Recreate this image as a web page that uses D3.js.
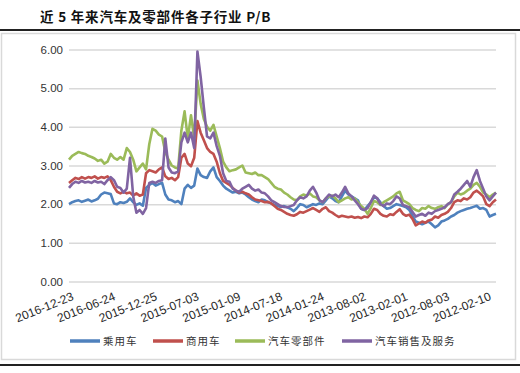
<!DOCTYPE html>
<html><head><meta charset="utf-8">
<script src="https://cdn.jsdelivr.net/npm/d3@7"></script>
<style>
html,body{margin:0;padding:0;background:#fff;}
svg{display:block;}
</style></head>
<body>
<svg id="chart" width="520" height="373"></svg>
<script>
const title = "近 5 年来汽车及零部件各子行业 P/B";
const seriesNames = ["乘用车", "商用车", "汽车零部件", "汽车销售及服务"];
const xLabels = ["2016-12-23","2016-06-24","2015-12-25","2015-07-03","2015-01-09","2014-07-18","2014-01-24","2013-08-02","2013-02-01","2012-08-03","2012-02-10"];
const yTicks = [0,1,2,3,4,5,6];
const labelStep = 13; // biweekly samples, one label every 26 weeks

const passenger = [2.00,2.05,2.08,2.10,2.06,2.09,2.12,2.07,2.10,2.14,2.25,2.30,2.28,2.26,2.02,2.00,2.05,2.03,2.06,2.15,
2.05,1.98,2.02,1.96,2.42,2.50,2.55,2.48,2.52,2.55,2.25,2.12,2.10,2.05,2.08,2.00,2.40,2.50,2.42,2.48,
2.92,2.75,2.70,2.68,2.85,2.95,2.70,2.60,2.48,2.40,2.35,2.30,2.32,2.28,2.30,2.25,2.18,2.12,2.08,2.05,
2.12,2.10,2.05,2.02,1.98,1.95,1.93,1.95,1.92,1.88,1.82,1.90,2.00,1.98,1.92,1.96,2.00,1.98,2.02,2.00,
2.10,2.20,2.15,2.08,2.05,2.20,2.35,2.25,2.20,2.15,2.10,1.88,1.85,1.95,2.05,2.18,2.15,2.05,1.95,1.88,
1.90,1.95,2.00,1.98,1.95,1.92,1.85,1.70,1.55,1.52,1.48,1.52,1.55,1.48,1.40,1.45,1.55,1.58,1.62,1.68,
1.72,1.78,1.82,1.85,1.88,1.90,1.93,1.96,1.88,1.90,1.85,1.68,1.72,1.75];

const commercial = [2.55,2.62,2.68,2.65,2.70,2.66,2.70,2.68,2.72,2.66,2.70,2.68,2.72,2.62,2.45,2.32,2.28,2.32,2.28,2.30,
2.22,2.28,2.22,2.25,2.80,2.88,2.85,2.82,2.90,2.95,2.72,2.65,2.68,2.62,2.70,3.20,3.30,3.05,2.98,3.20,
4.15,3.85,3.65,3.45,3.35,3.30,3.10,2.80,2.60,2.55,2.50,2.42,2.35,2.30,2.32,2.28,2.25,2.18,2.12,2.10,
2.08,2.05,2.06,2.02,1.95,1.88,1.85,1.80,1.75,1.72,1.70,1.74,1.80,1.78,1.82,1.86,1.90,1.85,1.80,1.88,
1.92,1.82,1.78,1.72,1.67,1.70,1.68,1.66,1.68,1.65,1.67,1.64,1.68,1.66,1.75,1.88,1.85,1.75,1.70,1.68,
1.74,1.72,1.80,1.87,1.75,1.70,1.73,1.62,1.45,1.50,1.55,1.52,1.58,1.60,1.68,1.65,1.72,1.75,1.80,1.90,
2.05,2.10,2.08,2.15,2.12,2.18,2.30,2.35,2.28,2.20,2.00,1.95,2.05,2.12];

const parts = [3.15,3.25,3.30,3.35,3.32,3.30,3.25,3.22,3.18,3.12,3.15,3.05,3.10,3.30,3.20,3.15,3.22,3.15,3.45,3.35,
3.15,2.85,2.95,3.05,2.90,3.55,3.95,3.90,3.80,3.75,3.35,3.15,3.00,2.95,2.92,3.90,4.40,3.70,4.30,3.70,
5.20,4.60,4.20,4.00,3.90,4.05,3.75,3.45,3.10,2.95,2.85,2.88,2.90,2.95,3.00,2.82,2.80,2.78,2.82,2.75,
2.75,2.70,2.65,2.55,2.45,2.40,2.38,2.30,2.25,2.18,2.12,2.10,2.20,2.25,2.22,2.28,2.20,2.18,2.10,2.05,
2.15,2.20,2.22,2.15,2.05,2.10,2.15,2.18,2.12,2.15,2.05,1.95,1.88,1.75,1.90,2.08,2.05,1.98,2.05,2.10,
2.15,2.20,2.28,2.32,2.10,2.05,2.00,1.90,1.85,1.82,1.90,1.88,1.95,1.90,1.88,1.92,1.95,1.90,2.00,2.05,
2.20,2.30,2.25,2.28,2.35,2.40,2.50,2.55,2.45,2.30,2.25,2.18,2.25,2.30];

const dealers = [2.42,2.52,2.58,2.55,2.60,2.56,2.58,2.55,2.60,2.56,2.58,2.52,2.62,2.70,2.62,2.45,2.42,2.30,2.40,3.20,
2.20,1.78,1.85,1.75,1.90,2.55,2.58,2.55,2.60,2.62,3.70,2.95,2.82,2.80,2.85,3.60,3.85,3.60,3.85,3.45,
5.95,5.30,4.50,3.75,3.70,3.85,3.50,3.25,2.80,2.60,2.58,2.40,2.35,2.32,2.40,2.45,2.50,2.40,2.35,2.38,
2.30,2.28,2.20,2.10,2.05,2.00,1.95,1.93,1.92,1.95,1.98,2.10,2.18,2.15,2.20,2.35,2.45,2.30,2.10,2.05,
2.15,2.25,2.20,2.25,2.18,2.30,2.45,2.28,2.20,2.10,2.00,1.88,1.85,1.90,2.05,2.22,2.15,2.00,1.95,2.02,
2.00,2.08,2.20,2.15,1.98,1.95,1.92,1.80,1.68,1.72,1.75,1.70,1.78,1.75,1.82,1.85,1.88,1.92,2.00,2.05,
2.25,2.32,2.40,2.50,2.60,2.45,2.70,2.88,2.60,2.40,2.20,2.10,2.20,2.30];

const seriesData = [passenger, commercial, parts, dealers];
const colors = ["#4F81BD", "#C0504D", "#9BBB59", "#8064A2"];

const svg = d3.select("#chart");
const W = 520, H = 373;
const m = {left: 69, right: 27, top: 49.5, bottom: 91.5};
const N = passenger.length;

// title
svg.append("text").attr("x", 40).attr("y", 22)
  .attr("font-family", "'Noto Sans CJK SC', sans-serif").attr("font-size", 13.5)
  .attr("font-weight", "bold").attr("letter-spacing", 0.8).attr("fill", "#111").text(title);
svg.append("line").attr("x1", 0).attr("x2", W).attr("y1", 30).attr("y2", 30)
  .attr("stroke", "#222").attr("stroke-width", 2);
// frame
svg.append("rect").attr("x", 1.5).attr("y", 33.5).attr("width", 514).attr("height", 326)
  .attr("fill", "#fff").attr("stroke", "#d9d9d9").attr("stroke-width", 1.5);
svg.append("line").attr("x1", 0).attr("x2", W).attr("y1", 365).attr("y2", 365)
  .attr("stroke", "#222").attr("stroke-width", 2);

const x = d3.scaleLinear().domain([0, N - 1]).range([m.left, W - m.right + 3]);
const y = d3.scaleLinear().domain([0, 6]).range([H - m.bottom, m.top]);

// y axis + grid
const yAxis = d3.axisLeft(y).tickValues(yTicks).tickFormat(d3.format(".2f"))
  .tickSize(-(x.range()[1] - x.range()[0])).tickPadding(6);
const gy = svg.append("g").attr("transform", `translate(${m.left},0)`).call(yAxis);
gy.select(".domain").remove();
gy.selectAll(".tick line").attr("stroke", "#d9d9d9").attr("stroke-width", 1.5);
gy.selectAll(".tick text").attr("font-family", "'Liberation Sans', Arial, sans-serif")
  .attr("font-size", 11.5).attr("fill", "#333");

// x axis
const xTickVals = xLabels.map((d, i) => i * labelStep);
const xAxis = d3.axisBottom(x).tickValues(xTickVals).tickFormat((d, i) => xLabels[i]).tickSize(0);
const gx = svg.append("g").attr("transform", `translate(0,${y(0)})`).call(xAxis);
gx.select(".domain").remove();
gx.selectAll(".tick text")
  .attr("font-family", "'Liberation Sans', Arial, sans-serif").attr("font-size", 12)
  .attr("fill", "#2a2a2a").attr("text-anchor", "end")
  .attr("dy", null).attr("y", 0)
  .attr("transform", "translate(5,18) rotate(-22)");

// lines
const line = d3.line().x((d, i) => x(i)).y(d => y(d));
seriesData.forEach((s, k) => {
  svg.append("path").datum(s).attr("d", line).attr("fill", "none")
    .attr("stroke", colors[k]).attr("stroke-width", 2.6).attr("stroke-linejoin", "round");
});

// legend
const legendX = [70, 153, 235, 342];
const lg = svg.append("g");
seriesNames.forEach((name, k) => {
  lg.append("line").attr("x1", legendX[k]).attr("x2", legendX[k] + 30)
    .attr("y1", 341).attr("y2", 341).attr("stroke", colors[k]).attr("stroke-width", 3.5);
  lg.append("text").attr("x", legendX[k] + 33).attr("y", 345)
    .attr("font-family", "'Noto Sans CJK SC', sans-serif").attr("font-size", 10.5)
    .attr("letter-spacing", 1).attr("fill", "#333").text(name);
});
</script>
</body></html>
